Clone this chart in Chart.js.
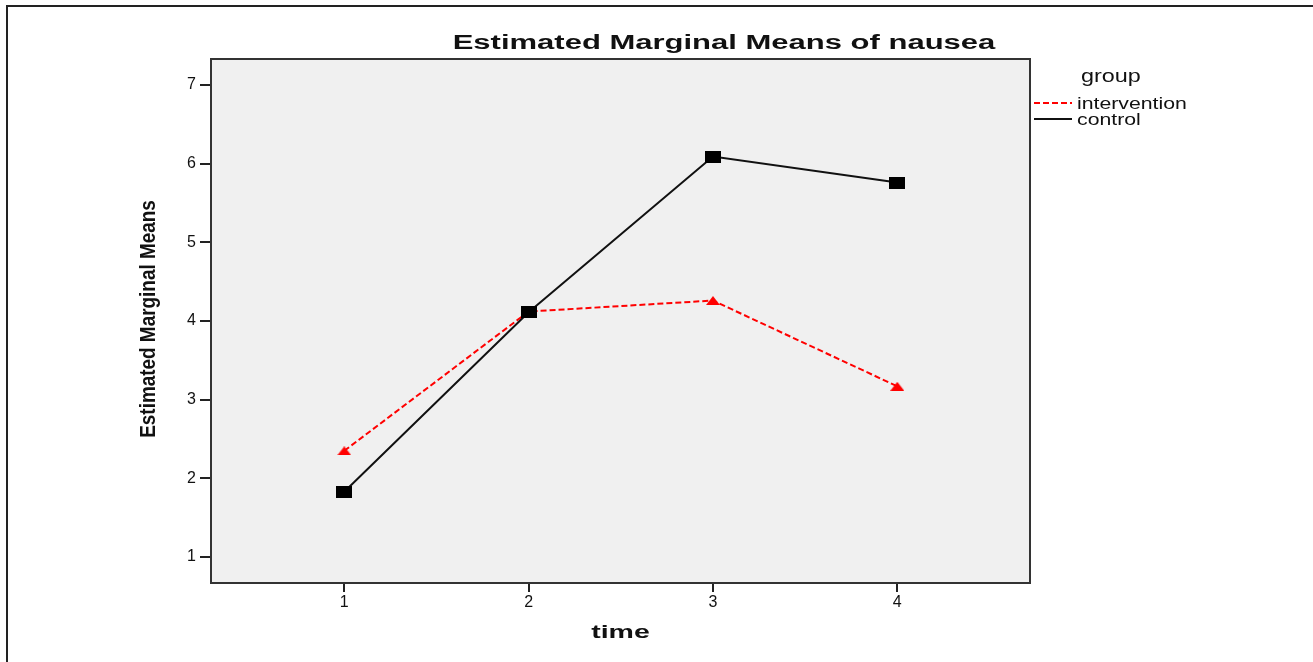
<!DOCTYPE html>
<html>
<head>
<meta charset="utf-8">
<title>Estimated Marginal Means of nausea</title>
<script src="https://cdn.jsdelivr.net/npm/chart.js@4.4.1/dist/chart.umd.min.js"></script>
<style>
  html, body { margin: 0; padding: 0; background: #fff; }
  #wrap { width: 1313px; height: 662px; }
</style>
</head>
<body>
<div id="wrap"><canvas id="emmChart" width="1313" height="662"></canvas></div>
<script>
// values
const timePoints = [1, 2, 3, 4];
const interventionMeans = [2.35, 4.12, 4.26, 3.17];
const controlMeans = [1.83, 4.11, 6.09, 5.76];
const yTickValues = [1, 2, 3, 4, 5, 6, 7];
const groupNames = ['intervention', 'control'];

const FONT = "'Liberation Sans', Arial, sans-serif";

// SPSS markers are a bit wider than tall, so build them as small canvases
function makeMarker(shape, w, h, color) {
    const c = document.createElement('canvas');
    c.width = w;
    c.height = h;
    const g = c.getContext('2d');
    g.fillStyle = color;
    if (shape === 'square') {
        g.fillRect(0, 0, w, h);
    } else {
        g.beginPath();
        g.moveTo(w / 2, 0);
        g.lineTo(w, h);
        g.lineTo(0, h);
        g.closePath();
        g.fill();
    }
    return c;
}

// text drawn with a horizontal stretch, like the exported picture
function stretchedText(ctx, text, x, y, font, sx, align) {
    ctx.save();
    ctx.font = font;
    ctx.fillStyle = '#111';
    ctx.textAlign = align || 'left';
    ctx.textBaseline = 'alphabetic';
    ctx.translate(x, y);
    ctx.scale(sx, 1);
    ctx.fillText(text, 0, 0);
    ctx.restore();
}

const spssFrame = {
    id: 'spssFrame',
    beforeDraw(chart) {
        const { ctx, chartArea: a } = chart;
        ctx.save();
        // window frame: only left and top edges are visible
        ctx.strokeStyle = '#222';
        ctx.lineWidth = 2;
        ctx.beginPath();
        ctx.moveTo(7, 662);
        ctx.lineTo(7, 6);
        ctx.lineTo(1313, 6);
        ctx.stroke();
        // grey plot background
        ctx.fillStyle = '#f0f0f0';
        ctx.fillRect(a.left, a.top, a.right - a.left, a.bottom - a.top);
        ctx.restore();
    },
    beforeDatasetsDraw(chart) {
        const { ctx, chartArea: a } = chart;
        ctx.save();
        ctx.strokeStyle = '#333';
        ctx.lineWidth = 2;
        ctx.strokeRect(a.left, a.top, a.right - a.left, a.bottom - a.top);
        ctx.restore();
    },
    afterDraw(chart) {
        const { ctx, chartArea: a } = chart;

        // title
        stretchedText(ctx, 'Estimated Marginal Means of nausea', 724, 49, 'bold 20px ' + FONT, 1.55, 'center');

        // x axis title
        stretchedText(ctx, 'time', (a.left + a.right) / 2, 638, 'bold 19px ' + FONT, 1.5, 'center');

        // y axis title (rotated, slightly condensed)
        ctx.save();
        ctx.font = 'bold 22px ' + FONT;
        ctx.fillStyle = '#111';
        ctx.textAlign = 'center';
        ctx.textBaseline = 'alphabetic';
        ctx.translate(155, (a.top + a.bottom) / 2 - 2);
        ctx.rotate(-Math.PI / 2);
        ctx.scale(0.86, 1);
        ctx.fillText('Estimated Marginal Means', 0, 0);
        ctx.restore();

        // legend
        stretchedText(ctx, 'group', a.right + 51, 82, '18px ' + FONT, 1.3, 'left');
        chart.data.datasets.forEach((ds, i) => {
            const y = 103 + i * 16;
            ctx.save();
            ctx.strokeStyle = ds.borderColor;
            ctx.lineWidth = 2;
            ctx.setLineDash(ds.borderDash || []);
            ctx.beginPath();
            ctx.moveTo(a.right + 4, y);
            ctx.lineTo(a.right + 42, y);
            ctx.stroke();
            ctx.restore();
            stretchedText(ctx, ds.label, a.right + 47, y + 6, '17px ' + FONT, 1.25, 'left');
        });
    }
};

const ctx = document.getElementById('emmChart').getContext('2d');

new Chart(ctx, {
    type: 'line',
    data: {
        datasets: [{
            label: groupNames[0],
            data: timePoints.map((t, i) => ({ x: t, y: interventionMeans[i] })),
            borderColor: '#ff0000',
            backgroundColor: '#ff0000',
            borderWidth: 2,
            borderDash: [6, 3],
            pointStyle: makeMarker('triangle', 14, 9, '#ff0000'),
            order: 1
        }, {
            label: groupNames[1],
            data: timePoints.map((t, i) => ({ x: t, y: controlMeans[i] })),
            borderColor: '#111',
            backgroundColor: '#000',
            borderWidth: 2,
            pointStyle: makeMarker('square', 16, 12, '#000'),
            order: 0
        }]
    },
    options: {
        responsive: false,
        animation: false,
        events: [],
        layout: { padding: { top: 59, right: 283, left: 0, bottom: 0 } },
        plugins: {
            legend: { display: false },
            title: { display: false },
            tooltip: { enabled: false }
        },
        scales: {
            x: {
                type: 'linear',
                min: 0.277,
                max: 4.72,
                afterBuildTicks: s => { s.ticks = timePoints.map(v => ({ value: v })); },
                afterFit: s => { s.height = 79; },
                border: { display: false },
                grid: { drawOnChartArea: false, drawTicks: true, tickLength: 9, color: '#222', lineWidth: 2 },
                ticks: { color: '#111', font: { family: FONT, size: 16 }, padding: 1, autoSkip: false, maxRotation: 0 }
            },
            y: {
                min: 0.67,
                max: 7.33,
                afterBuildTicks: s => { s.ticks = yTickValues.map(v => ({ value: v })); },
                afterFit: s => { s.width = 211; },
                border: { display: false },
                grid: { drawOnChartArea: false, drawTicks: true, tickLength: 11, color: '#222', lineWidth: 2 },
                ticks: { color: '#111', font: { family: FONT, size: 16 }, padding: 4, autoSkip: false }
            }
        }
    },
    plugins: [spssFrame]
});
</script>
</body>
</html>
